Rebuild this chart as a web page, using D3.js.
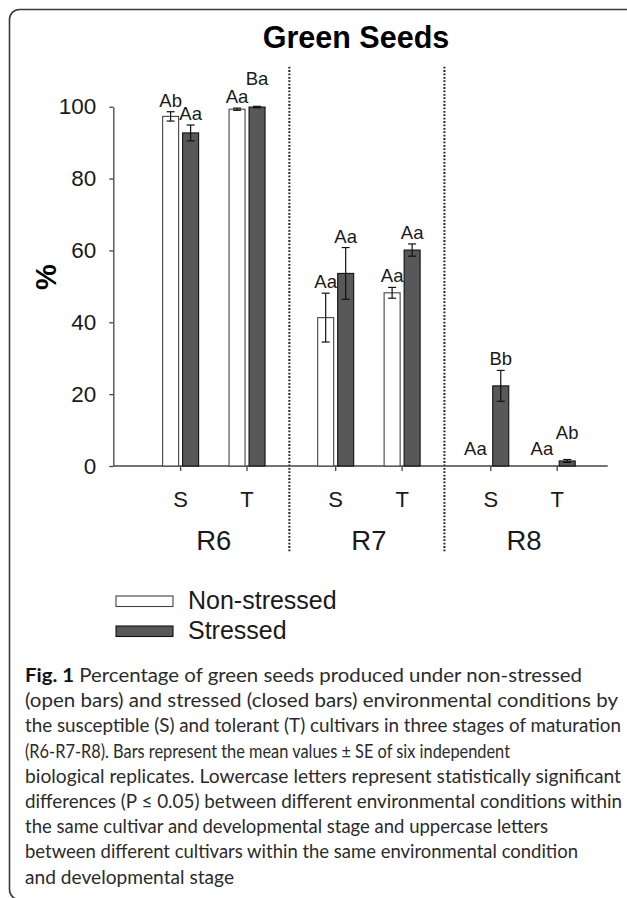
<!DOCTYPE html>
<html>
<head>
<meta charset="utf-8">
<script src="https://cdn.jsdelivr.net/npm/d3@7"></script>
<style>
  html, body { margin: 0; padding: 0; background: #fff; }
  svg { display: block; }
</style>
</head>
<body>
<svg id="chart" width="627" height="898"></svg>
<script>
// ------------------------------------------------------------
// Green seeds (%) by stage / cultivar / condition
// ------------------------------------------------------------

const stages = ['R6', 'R7', 'R8'];
const cultivars = ['S', 'T'];
const conditions = ['Non-stressed', 'Stressed'];

// order: R6-S, R6-T, R7-S, R7-T, R8-S, R8-T
const nonStressedMean = [97.3, 99.3, 41.3, 48.2, 0, 0];
const nonStressedSE   = [1.3, 0.3, 6.8, 1.5, 0, 0];
const stressedMean    = [92.7, 99.9, 53.6, 60.1, 22.3, 1.4];
const stressedSE      = [2.2, 0.2, 7.2, 1.7, 4.3, 0.4];
const nonStressedLetters = ['Ab', 'Aa', 'Aa', 'Aa', 'Aa', 'Aa'];
const stressedLetters    = ['Aa', 'Ba', 'Aa', 'Aa', 'Bb', 'Ab'];

const yTicks = [0, 20, 40, 60, 80, 100];

const captionLines = [
  'Percentage of green seeds produced under non-stressed',
  '(open bars) and stressed (closed bars) environmental conditions by',
  'the susceptible (S) and tolerant (T) cultivars in three stages of maturation',
  '(R6-R7-R8). Bars represent the mean values \u00b1 SE of six independent',
  'biological replicates. Lowercase letters represent statistically significant',
  'differences (P \u2264 0.05) between different environmental conditions within',
  'the same cultivar and developmental stage and uppercase letters',
  'between different cultivars within the same environmental condition',
  'and developmental stage'
];
// right end of each caption line (ragged right)
const captionEnds = [582, 618, 621, 510, 621, 622, 548, 578, 234];

const FONT = "'Liberation Sans', Arial, Helvetica, sans-serif";
const INK = '#1a1a1a';

const svg = d3.select('#chart');

// Frame
svg.append('rect')
  .attr('x', 9.5).attr('y', 9.5)
  .attr('width', 700).attr('height', 890)
  .attr('rx', 10).attr('ry', 10)
  .attr('fill', '#fff')
  .attr('stroke', '#3a3a3a')
  .attr('stroke-width', 1.6);

// Scales
const y = d3.scaleLinear().domain([0, 100]).range([466, 106.7]);
const xStage = d3.scaleBand().domain(stages).range([136.3, 601.5]).padding(0);
const xCult = d3.scaleBand().domain(cultivars).range([0, xStage.bandwidth()])
  .paddingInner(0).paddingOuter(0.167);
const xCond = d3.scaleBand().domain(conditions).range([-18, 18]).paddingInner(0.2);

const rows = [];
stages.forEach((s, si) => cultivars.forEach((c, ci) => {
  const i = si * 2 + ci;
  const cx = xStage(s) + xCult(c) + xCult.bandwidth() / 2;
  rows.push({ stage: s, cult: c, cx,
    bars: [
      { cond: conditions[0], mean: nonStressedMean[i], se: nonStressedSE[i], letter: nonStressedLetters[i] },
      { cond: conditions[1], mean: stressedMean[i], se: stressedSE[i], letter: stressedLetters[i] }
    ]});
}));

// Title
svg.append('text')
  .attr('x', 356).attr('y', 48.3)
  .attr('text-anchor', 'middle')
  .attr('font-family', FONT).attr('font-weight', 'bold')
  .attr('font-size', 30.5).attr('fill', '#000')
  .text('Green Seeds');

// Y axis
const yAxis = svg.append('g')
  .attr('transform', 'translate(113.3,0)')
  .call(d3.axisLeft(y).tickValues(yTicks).tickSize(4).tickSizeOuter(0).tickPadding(13));
yAxis.select('.domain').attr('stroke', '#444').attr('stroke-width', 1.3);
yAxis.selectAll('.tick line').attr('stroke', '#444').attr('stroke-width', 1.3);
yAxis.selectAll('.tick text')
  .attr('font-family', FONT).attr('font-size', 22.5).attr('fill', INK);

svg.append('text')
  .attr('transform', 'translate(56,277) rotate(-90)')
  .attr('text-anchor', 'middle')
  .attr('font-family', FONT).attr('font-weight', 'bold')
  .attr('font-size', 29).attr('fill', '#000')
  .text('%');

// Stage dividers (dotted), halfway between neighbouring cultivar ticks
const dividers = [1, 3].map(i => (rows[i].cx + rows[i + 1].cx) / 2 - 2);
svg.append('g').selectAll('line').data(dividers).join('line')
  .attr('x1', d => d).attr('x2', d => d)
  .attr('y1', 66.7).attr('y2', 552)
  .attr('stroke', '#222').attr('stroke-width', 2)
  .attr('stroke-dasharray', '1.8,1.6');

// X axis baseline + ticks
svg.append('line')
  .attr('x1', 113.3).attr('x2', 607.7)
  .attr('y1', y(0)).attr('y2', y(0))
  .attr('stroke', '#444').attr('stroke-width', 1.3);

svg.append('g').selectAll('line').data(rows).join('line')
  .attr('x1', d => d.cx).attr('x2', d => d.cx)
  .attr('y1', y(0)).attr('y2', y(0) + 5)
  .attr('stroke', '#444').attr('stroke-width', 1.3);

svg.append('g').selectAll('text').data(rows).join('text')
  .attr('x', d => d.cx).attr('y', 506.5)
  .attr('text-anchor', 'middle')
  .attr('font-family', FONT).attr('font-size', 22).attr('fill', INK)
  .text(d => d.cult);

svg.append('g').selectAll('text').data(stages).join('text')
  .attr('x', d => xStage(d) + xStage.bandwidth() / 2).attr('y', 550)
  .attr('text-anchor', 'middle')
  .attr('font-family', FONT).attr('font-size', 27.5).attr('fill', INK)
  .text(d => d);

// Bars
const fills = { 'Non-stressed': '#ffffff', 'Stressed': '#585858' };
const strokes = { 'Non-stressed': '#444', 'Stressed': '#111' };

const groups = svg.append('g').selectAll('g').data(rows).join('g')
  .attr('transform', d => `translate(${d.cx},0)`);

groups.selectAll('rect').data(d => d.bars.filter(b => b.mean > 0)).join('rect')
  .attr('x', b => xCond(b.cond))
  .attr('y', b => y(b.mean))
  .attr('width', xCond.bandwidth())
  .attr('height', b => y(0) - y(b.mean))
  .attr('fill', b => fills[b.cond])
  .attr('stroke', b => strokes[b.cond])
  .attr('stroke-width', 1.1);

// Error bars
const errs = groups.selectAll('g.err').data(d => d.bars.filter(b => b.mean > 0)).join('g')
  .attr('class', 'err')
  .attr('transform', b => `translate(${xCond(b.cond) + xCond.bandwidth() / 2},0)`);
errs.append('line')
  .attr('x1', 0).attr('x2', 0)
  .attr('y1', b => y(b.mean + b.se)).attr('y2', b => y(b.mean - b.se))
  .attr('stroke', '#111').attr('stroke-width', 1.2);
errs.selectAll('line.cap').data(b => [b.mean + b.se, b.mean - b.se]).join('line')
  .attr('class', 'cap')
  .attr('x1', -4).attr('x2', 4)
  .attr('y1', v => y(v)).attr('y2', v => y(v))
  .attr('stroke', '#111').attr('stroke-width', 1.2);

// Significance letters
groups.each(function (d) {
  const g = d3.select(this);
  const pos = d.bars.map(b => {
    const cx = xCond(b.cond) + xCond.bandwidth() / 2;
    if (b.mean === 0) return { x: xCond(b.cond) + xCond.bandwidth() - 2, y: y(0) - 11, anchor: 'end' };
    return { x: cx, y: y(b.mean + b.se) - 5, anchor: 'middle' };
  });
  // lift the stressed label when it would sit level with the open-bar label
  if (Math.abs(pos[1].y - pos[0].y) < 12) pos[1].y = Math.min(pos[0].y, pos[1].y) - 16;
  d.bars.forEach((b, i) => {
    g.append('text')
      .attr('x', pos[i].x).attr('y', pos[i].y)
      .attr('text-anchor', pos[i].anchor)
      .attr('font-family', FONT).attr('font-size', 18.5).attr('fill', INK)
      .text(b.letter);
  });
});

// Legend
const legend = svg.append('g').selectAll('g').data(conditions).join('g')
  .attr('transform', (d, i) => `translate(116,${596 + i * 30})`);
legend.append('rect')
  .attr('width', 57).attr('height', 10.5)
  .attr('fill', d => fills[d])
  .attr('stroke', d => strokes[d]).attr('stroke-width', 1.1);
legend.append('text')
  .attr('x', 72).attr('y', 13)
  .attr('font-family', FONT).attr('font-size', 25).attr('fill', INK)
  .text(d => d);

// Caption
const CAP_FONT = "Lato, 'Open Sans', sans-serif";
const cap = svg.append('g');
captionLines.forEach((line, i) => {
  const t = cap.append('text')
    .attr('x', 25).attr('y', 682 + i * 25.2)
    .attr('font-family', CAP_FONT).attr('font-size', 18.5)
    .attr('fill', '#2b2b2b')
    .attr('textLength', captionEnds[i] - 25)
    .attr('lengthAdjust', 'spacingAndGlyphs');
  if (i === 0) {
    t.append('tspan').attr('font-weight', 'bold').attr('fill', '#111').text('Fig. 1');
    t.append('tspan').text(' ' + line);
  } else {
    t.text(line);
  }
});
</script>
</body>
</html>
